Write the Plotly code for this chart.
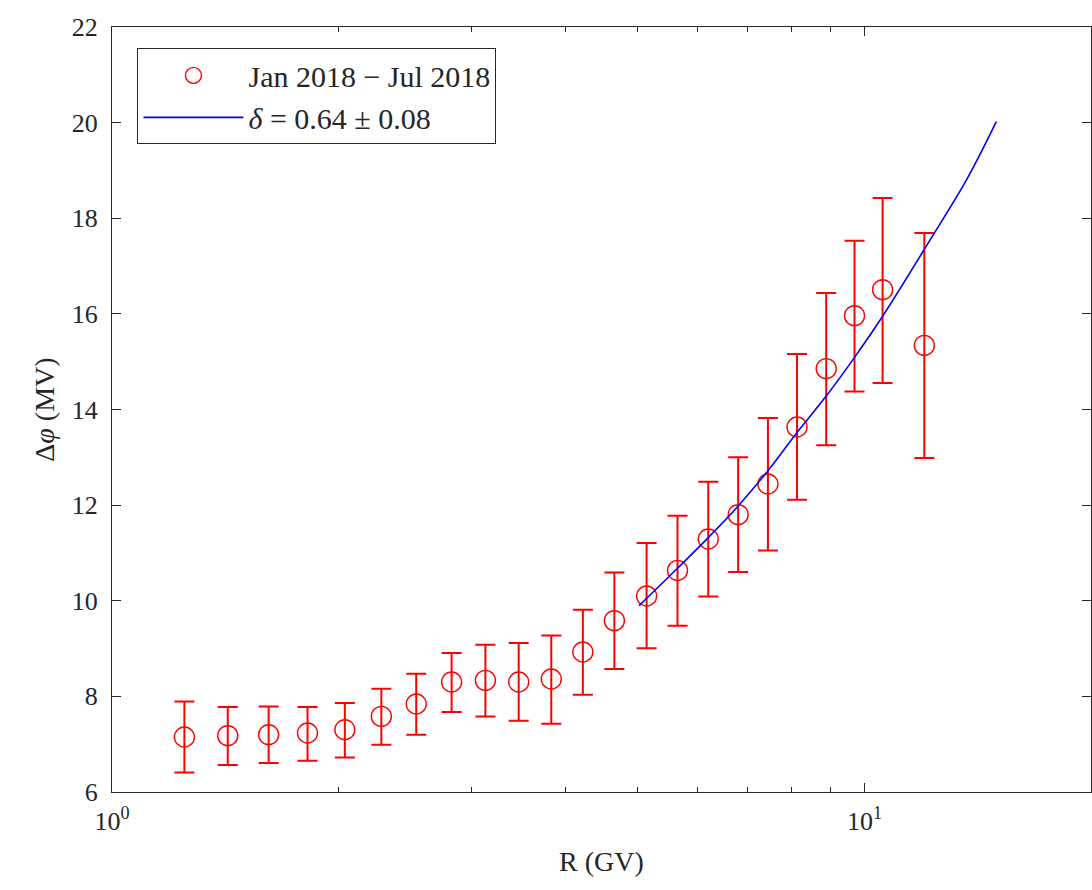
import numpy as np
import plotly.graph_objects as go

# Data
R = [1.248, 1.425, 1.615, 1.819, 2.039, 2.280, 2.537, 2.827, 3.135, 3.471, 3.835, 4.224,
     4.652, 5.134, 5.643, 6.200, 6.794, 7.442, 8.135, 8.895, 9.700, 10.57, 12.01]
dphi = [7.150, 7.178, 7.198, 7.234, 7.303, 7.581, 7.841, 8.301, 8.334, 8.301, 8.364, 8.928,
        9.583, 10.10, 10.635, 11.292, 11.800, 12.442, 13.634, 14.854, 15.962, 16.506, 15.341]
err_hi = [7.895, 7.778, 7.790, 7.778, 7.862, 8.161, 8.474, 8.907, 9.081, 9.116, 9.275, 9.813,
          10.593, 11.208, 11.779, 12.490, 12.999, 13.823, 15.161, 16.437, 17.531, 18.424, 17.692]
err_lo = [6.410, 6.565, 6.607, 6.655, 6.724, 6.989, 7.198, 7.673, 7.581, 7.491, 7.429, 8.035,
          8.573, 9.004, 9.478, 10.091, 10.601, 11.053, 12.114, 13.250, 14.379, 14.555, 12.986]

fit_R = [5.017, 5.643, 6.200, 6.794, 7.442, 8.135, 8.895, 9.700, 10.57, 12.26, 13.64, 14.97]
fit_phi = [9.897, 10.68, 11.32, 11.98, 12.72, 13.52, 14.28, 15.09, 15.95, 17.58, 18.78, 20.02]

x_ticks = [1, 10]
x_ticktext = ["10<sup>0</sup>", "10<sup>1</sup>"]
x_minor = [2, 3, 4, 5, 6, 7, 8, 9, 20]
y_ticks = [6, 8, 10, 12, 14, 16, 18, 20, 22]

plus = [h - v for h, v in zip(err_hi, dphi)]
minus = [v - l for l, v in zip(err_lo, dphi)]

FONT = "Liberation Serif"
AX = "#262626"

fig = go.Figure()
fig.add_trace(go.Scatter(
    x=R, y=dphi, mode="markers", name="Jan 2018 \u2212 Jul 2018",
    marker=dict(symbol="circle-open", size=20, color="#FF0000", line=dict(width=1.4, color="#FF0000")),
    error_y=dict(type="data", symmetric=False, array=plus, arrayminus=minus,
                 color="#FF0000", thickness=2, width=10),
))
fig.add_trace(go.Scatter(
    x=fit_R, y=fit_phi, mode="lines", name="<i>\u03b4</i> = 0.64 \u00b1 0.08",
    line=dict(color="#0000FF", width=1.6, shape="spline"),
))

fig.update_layout(
    width=1092, height=890,
    margin=dict(l=112, r=1, t=27, b=98),
    paper_bgcolor="white", plot_bgcolor="white",
    font=dict(family=FONT, color=AX, size=24),
    showlegend=True,
    legend=dict(x=0.026, y=0.972, xanchor="left", yanchor="top",
                bgcolor="white", bordercolor="#262626", borderwidth=1,
                font=dict(family=FONT, size=30, color=AX), tracegroupgap=0,
                itemwidth=100),
)
fig.update_xaxes(
    type="log", range=[0, np.log10(20)],
    tickvals=x_ticks, ticktext=x_ticktext,
    ticks="inside", ticklen=9, tickwidth=1, tickcolor=AX,
    minor=dict(tickvals=x_minor, ticks="inside", ticklen=5, tickcolor=AX, showgrid=False),
    showline=True, linecolor=AX, linewidth=1, mirror="ticks",
    showgrid=False, zeroline=False, ticklabelstandoff=6,
    tickfont=dict(family=FONT, size=26, color=AX),
    title=dict(text="R (GV)", font=dict(family=FONT, size=28, color=AX), standoff=16),
)
fig.update_yaxes(
    range=[6, 22], tickvals=y_ticks,
    ticks="inside", ticklen=9, tickwidth=1, tickcolor=AX,
    showline=True, linecolor=AX, linewidth=1, mirror="ticks",
    showgrid=False, zeroline=False, ticklabelstandoff=8,
    tickfont=dict(family=FONT, size=26, color=AX),
    title=dict(text="\u0394<i>\u03c6</i> (MV)", font=dict(family=FONT, size=28, color=AX), standoff=8),
)

fig.write_html("out.html")
